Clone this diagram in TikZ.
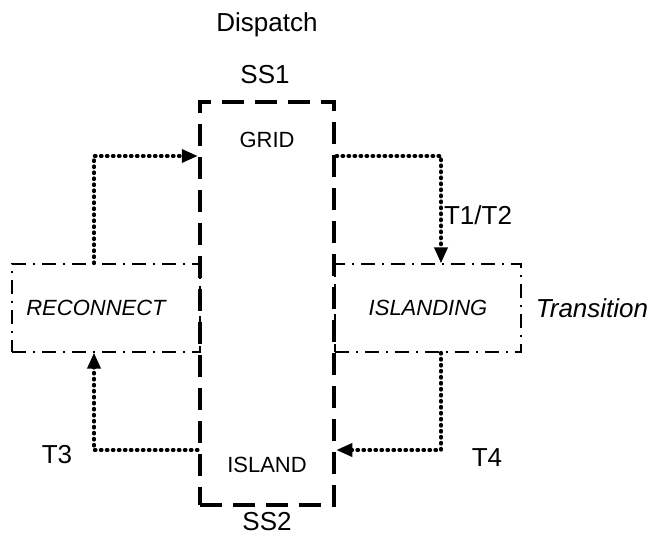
\documentclass[tikz,border=0pt]{standalone}
\usepackage{fontspec}
\setmainfont{Liberation Sans}
\usepackage{tikz}
\usetikzlibrary{arrows.meta, positioning}

\begin{document}
\begin{tikzpicture}[x=1pt, y=-1pt,
        statebox/.style={rectangle, draw=black, line width=4.5pt, dash pattern=on 22pt off 11pt, minimum width=134pt, minimum height=403pt, inner sep=0pt},
        transbox/.style={rectangle, draw=black, line width=1.3pt, dash pattern=on 14pt off 7pt on 2pt off 7pt, minimum height=88pt, inner sep=0pt, font=\fontsize{22}{26}\selectfont\itshape},
        small/.style={font=\fontsize{22}{26}\selectfont},
        big/.style={font=\fontsize{26}{30}\selectfont},
        flow/.style={-{Triangle[length=16pt, width=13pt]}, line width=3.6pt, dash pattern=on 1.2pt off 4.8pt, line cap=round}
    ]
        \useasboundingbox (0,0) rectangle (660,542);
        \node[transbox, minimum width=188pt] (reconnect) at (106,308) {\hspace*{-20pt}RECONNECT};
        \node[transbox, minimum width=186pt] (islanding) at (428,308) {ISLANDING};
        \node[statebox] (state) at (267,303.5) {};
        \node[small] (grid) at (267,140) {GRID};
        \node[small] (island) at (267,465) {ISLAND};
        \node[big] (ss1) at (265,75) {SS1};
        \node[big] (dispatch) at (267,25) {Dispatch};
        \node[big] (ss2) at (267,522) {SS2};
        \node[big] (t12) at (478,215) {T1/T2};
        \node[big] (t3) at (57,455) {T3};
        \node[big] (t4) at (487,458) {T4};
        \node[big, font=\fontsize{26}{30}\selectfont\itshape] (trans) at (592,308) {Transition};
        \draw[flow] ([xshift=-12pt]reconnect.north) |- ([yshift=147.5pt]state.west);
        \draw[flow] ([yshift=147.5pt]state.east) -| ([xshift=13pt]islanding.north);
        \draw[flow] ([xshift=13pt]islanding.south) |- ([yshift=-146.5pt]state.east);
        \draw[flow] ([yshift=-146.5pt]state.west) -| ([xshift=-12pt]reconnect.south);
    \end{tikzpicture}
\end{document}
